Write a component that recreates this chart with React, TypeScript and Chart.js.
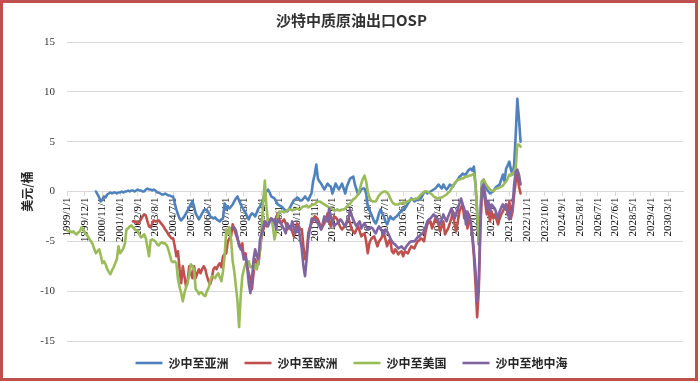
import React, { useEffect, useRef } from 'react';
import { Chart, registerables } from 'chart.js';

Chart.register(...registerables);

const CHART_TITLE = '沙特中质原油出口OSP';
const Y_AXIS_TITLE = '美元/桶';
const SERIES_NAMES = ['沙中至亚洲', '沙中至欧洲', '沙中至美国', '沙中至地中海'];
const SERIES_COLORS = ['#4f81bd', '#c0504d', '#9bbb59', '#8064a2'];

// monthly categories 1999/1/1 .. 2030/12/1, a label every 11 months
const FIRST_YEAR = 1999;
const MONTH_COUNT = 384;
const LABEL_EVERY = 11;
const categories: string[] = [];
for (let i = 0; i < MONTH_COUNT; i++) {
  categories.push(`${FIRST_YEAR + Math.floor(i / 12)}/${(i % 12) + 1}/1`);
}

const Y_MIN = -15;
const Y_MAX = 15;
const Y_STEP = 5;

// 沙中至亚洲 starts 2000/7
const asiaStart = 18;
const asiaValues = [
  0.0, -0.3, -0.6, -1.0, -0.8, -0.5,
  -0.6, -0.3, -0.2, -0.1, -0.2, -0.1, -0.1, -0.2, -0.1, -0.1, 0.0, -0.1,
  0.0, 0.0, 0.1, 0.0, 0.1, 0.1, 0.0, 0.1, 0.2, 0.1, 0.1, 0.0,
  0.0, 0.2, 0.3, 0.2, 0.2, 0.1, 0.2, 0.1, -0.1, -0.1, -0.2, -0.3,
  -0.3, -0.2, -0.3, -0.4, -0.4, -0.5, -0.5, -1.2, -1.8, -2.3, -2.7, -2.9,
  -2.7, -2.5, -2.2, -1.9, -1.6, -1.3, -1.0, -1.5, -2.2, -2.5, -2.8, -2.5,
  -2.2, -1.9, -1.8, -1.9, -2.1, -2.5, -2.6, -2.7, -2.6, -2.8, -2.9, -3.0,
  -2.8, -2.7, -1.2, -1.8, -1.5, -1.7, -1.5, -1.3, -1.0, -0.7, -0.5, -0.9,
  -1.3, -1.6, -1.9, -2.1, -2.5, -2.8, -2.4, -2.2, -2.3, -2.5, -2.1, -1.7,
  -1.5, -1.2, -0.7, -0.2, 0.0, 0.2, -0.1, -0.5, -0.6, -0.7, -1.0, -1.3,
  -1.4, -1.5, -1.6, -1.8, -1.9, -2.0, -1.8, -1.5, -1.2, -0.9, -0.8, -0.6,
  -0.7, -0.9, -0.9, -0.7, -0.5, -0.7, -0.9, -0.5, -0.2, 1.0, 1.7, 2.7,
  1.3, 1.0, 0.8, 0.5, 0.2, 0.5, 0.8, 0.6, 0.5, -0.2, 0.3, 0.8,
  0.5, 0.2, 0.5, 0.8, 0.3, -0.2, 0.5, 0.9, 1.3, 1.4, 1.5, 0.7,
  0.2, -0.3, -0.1, 0.2, 0.3, 0.3, -0.2, -1.5, -1.9, -2.2, -2.6, -3.0,
  -3.2, -2.8, -2.2, -1.8, -2.2, -2.5, -3.0, -3.3, -2.9, -2.5, -2.7, -2.8,
  -2.6, -2.5, -2.3, -2.1, -2.0, -1.8, -1.7, -1.5, -1.2, -1.0, -0.7, -0.8,
  -1.0, -0.9, -0.8, -0.7, -0.7, -0.4, -0.1, 0.0, -0.2, -0.1, 0.0, 0.1,
  0.2, 0.3, 0.5, 0.7, 0.5, 0.3, 0.7, 0.4, 0.2, 0.4, 0.7, 0.6,
  0.5, 0.8, 1.0, 1.2, 1.5, 1.6, 1.8, 1.7, 1.7, 2.0, 2.2, 2.3,
  2.1, 2.5, 0.7, -2.0, -5.3, -2.5, 1.0, 1.2, 0.7, 0.2, 0.0, -0.2,
  -0.1, 0.0, 0.3, 0.5, 0.6, 0.7, 1.2, 1.7, 1.0, 2.3, 2.6, 3.0,
  2.2, 1.7, 2.7, 5.7, 9.3, 7.3, 5.0,
];

// 沙中至欧洲 starts 2002/6
const europeStart = 41;
const europeValues = [
  -3.0, -3.0, -3.1, -3.2, -3.0, -2.8, -2.5,
  -2.3, -2.4, -3.0, -3.5, -3.6, -3.2, -2.9, -3.0, -3.0, -2.9, -3.1, -3.3,
  -3.5, -3.8, -4.0, -4.3, -4.5, -4.7, -4.7, -5.5, -6.5, -6.0, -7.8, -9.2,
  -7.5, -8.5, -9.5, -9.0, -7.5, -8.2, -8.7, -7.5, -8.7, -8.2, -7.8, -8.2,
  -7.8, -7.5, -7.8, -8.5, -9.0, -9.3, -8.8, -7.8, -7.6, -7.8, -7.4, -7.2,
  -7.6, -6.5, -6.3, -6.2, -5.0, -4.7, -4.5, -3.3, -3.8, -4.3, -4.8, -5.2,
  -5.8, -5.2, -6.8, -6.2, -7.5, -8.2, -8.8, -9.8, -8.2, -6.8, -7.2, -7.3,
  -5.8, -4.5, -3.8, -3.0, -3.5, -2.8, -2.9, -2.7, -3.0, -3.2, -2.6, -2.2,
  -2.8, -3.2, -3.0, -2.8, -3.2, -3.8, -3.5, -3.5, -4.0, -4.5, -3.8, -3.2,
  -3.4, -3.8, -3.8, -5.5, -6.8, -6.2, -4.2, -3.6, -3.2, -2.8, -2.5, -2.6,
  -2.8, -3.2, -3.8, -3.5, -3.2, -2.8, -2.2, -2.8, -3.5, -3.0, -2.5, -2.6,
  -2.8, -3.2, -3.6, -3.8, -3.6, -3.5, -3.0, -2.7, -3.2, -3.8, -4.0, -4.2,
  -3.8, -3.5, -4.0, -4.5, -4.3, -4.2, -5.0, -6.2, -5.2, -4.8, -4.6, -4.5,
  -5.0, -5.5, -5.0, -4.8, -4.5, -4.2, -4.8, -5.5, -5.0, -4.8, -6.0, -6.2,
  -5.8, -6.0, -6.3, -6.1, -6.0, -6.5, -6.0, -6.1, -6.2, -5.8, -5.5, -5.6,
  -5.7, -5.3, -5.0, -4.9, -4.7, -4.8, -5.0, -4.0, -3.3, -3.1, -3.0, -3.7,
  -3.2, -2.7, -3.0, -3.3, -4.0, -3.5, -3.0, -4.3, -4.0, -3.7, -3.2, -2.7,
  -2.0, -3.3, -4.0, -3.0, -2.0, -1.6, -1.3, -2.7, -2.0, -3.7, -2.3, -3.3,
  -4.5, -6.5, -9.3, -12.6, -10.0, -4.0, 0.3, 0.0, -1.0, -2.3, -1.7, -3.0,
  -2.0, -2.7, -2.3, -2.8, -3.3, -2.7, -2.3, -2.0, -1.6, -1.3, -2.3, -1.0,
  -2.7, -2.0, -0.3, 1.0, 1.8, 0.5, -0.2,
];

// 沙中至美国 starts 1999/1
const usStart = 0;
const usValues = [
  -3.9, -4.0, -4.0, -4.1, -4.0, -4.2, -4.3, -4.1, -4.0, -3.6, -3.8, -4.1,
  -4.3, -4.5, -4.8, -5.0, -5.3, -5.8, -6.2, -6.0, -5.8, -6.4, -7.2, -7.0,
  -7.3, -7.8, -8.1, -8.3, -7.9, -7.6, -7.2, -6.8, -5.5, -6.2, -6.0, -5.7,
  -5.2, -3.8, -3.7, -3.5, -3.4, -3.6, -3.8, -3.9, -4.0, -4.3, -4.6, -4.5,
  -4.3, -4.7, -5.6, -6.5, -4.9, -4.8, -4.9, -5.0, -5.3, -5.4, -5.2, -5.1,
  -5.2, -5.2, -5.4, -5.8, -6.4, -7.0, -7.1, -7.0, -7.2, -8.8, -9.6, -10.2,
  -11.0, -10.2, -9.6, -9.2, -8.3, -7.3, -7.5, -7.8, -9.8, -10.0, -10.3, -10.1,
  -10.2, -10.4, -10.5, -10.0, -9.7, -9.0, -8.5, -8.6, -8.7, -8.4, -8.2, -8.6,
  -9.0, -8.0, -6.5, -3.8, -4.3, -3.6, -4.8, -7.0, -8.0, -9.5, -11.0, -13.6,
  -10.5, -8.5, -7.8, -7.2, -7.4, -7.0, -7.6, -7.5, -7.8, -7.3, -7.8, -7.0,
  -6.0, -3.8, -1.0, 1.1, -1.5, -3.2, -3.0, -2.8, -3.5, -4.8, -4.0, -2.5,
  -2.0, -2.0, -2.0, -2.1, -2.0, -1.9, -1.8, -1.8, -1.9, -1.8, -1.8, -1.7,
  -1.8, -1.8, -1.6, -1.5, -1.5, -1.4, -1.6, -1.5, -1.4, -1.3, -1.3, -1.1,
  -1.0, -1.0, -1.1, -1.2, -1.3, -1.4, -1.5, -1.6, -1.7, -1.8, -1.9, -1.9,
  -1.8, -1.9, -1.9, -1.8, -1.8, -1.7, -1.5, -1.3, -1.2, -1.0, -0.8, -0.7,
  -0.5, -0.3, 0.2, 0.8, 1.3, 1.6, 1.0, 0.0, -0.6, -0.9, -1.0, -1.0,
  -1.0, -0.7, -0.4, -0.2, -0.1, 0.0, 0.0, -0.1, -0.3, -0.7, -1.0, -1.2,
  -1.3, -1.3, -1.3, -1.2, -1.2, -1.1, -1.2, -1.0, -1.0, -0.9, -0.8, -0.8,
  -0.8, -0.7, -0.7, -0.5, -0.3, -0.2, 0.0, 0.0, 0.0, -0.1, -0.2, -0.3,
  -0.5, -0.6, -0.7, -0.7, -0.6, -0.6, -0.5, -0.4, -0.3, -0.1, 0.0, 0.3,
  0.6, 0.8, 1.0, 1.2, 1.2, 1.3, 1.3, 1.4, 1.5, 1.5, 1.6, 1.6,
  1.7, 1.8, 0.7, -2.0, -5.0, -2.0, 1.0, 1.2, 0.9, 0.6, 0.4, 0.2,
  0.1, 0.0, 0.2, 0.3, 0.3, 0.4, 0.5, 0.6, 0.8, 1.0, 1.3, 1.7,
  1.6, 1.8, 2.0, 2.4, 4.7, 4.7, 4.5,
];

// 沙中至地中海 starts 2007/8
const medStart = 103;
const medValues = [
  -3.7, -3.6, -3.9, -4.6, -5.5,
  -5.6, -6.0, -6.8, -6.5, -7.5, -9.2, -10.2, -8.8, -6.8, -5.8, -6.5, -6.8,
  -4.8, -4.2, -3.5, -3.0, -3.2, -3.5, -3.0, -2.7, -2.9, -2.8, -3.8, -2.8,
  -3.0, -3.2, -3.5, -3.8, -4.2, -3.2, -3.5, -3.8, -3.0, -3.6, -4.2, -3.8,
  -3.5, -4.8, -5.8, -7.5, -8.5, -6.8, -4.8, -3.8, -2.8, -2.8, -2.8, -3.0,
  -3.2, -3.5, -3.8, -3.2, -2.5, -2.8, -3.0, -1.7, -2.5, -3.0, -3.5, -3.3,
  -3.2, -3.0, -2.8, -3.0, -3.3, -3.5, -3.0, -2.8, -1.8, -2.4, -2.8, -3.2,
  -3.5, -3.2, -3.0, -3.7, -3.4, -3.2, -3.5, -3.8, -3.7, -3.6, -3.7, -4.0,
  -4.2, -3.8, -3.5, -3.8, -4.0, -4.3, -3.8, -4.0, -4.3, -4.7, -5.0, -5.2,
  -5.3, -5.5, -5.7, -5.6, -5.5, -5.7, -5.8, -5.5, -5.3, -5.1, -5.0, -5.0,
  -5.0, -4.8, -4.6, -4.5, -4.3, -4.2, -4.0, -3.5, -3.0, -2.8, -2.7, -2.5,
  -2.3, -2.5, -2.7, -3.0, -3.3, -2.8, -2.3, -2.7, -3.0, -2.5, -2.1, -1.7,
  -2.2, -2.7, -2.2, -1.7, -1.2, -0.7, -1.3, -1.7, -3.3, -2.0, -2.7, -3.0,
  -4.3, -6.0, -8.0, -11.0, -9.0, -3.0, 0.3, 0.7, -0.3, -1.7, -1.0, -2.0,
  -1.3, -1.5, -1.7, -2.2, -2.7, -2.0, -1.6, -1.3, -1.7, -1.3, -2.0, -2.8,
  -2.2, -1.7, 0.7, 2.0, 2.2, 1.7, 0.7,
];

function withLead(start: number, values: number[]): (number | null)[] {
  const lead: (number | null)[] = [];
  for (let i = 0; i < start; i++) lead.push(null);
  return lead.concat(values);
}

const seriesData = [
  withLead(asiaStart, asiaValues),
  withLead(europeStart, europeValues),
  withLead(usStart, usValues),
  withLead(medStart, medValues),
];

const CJK = '"Noto Sans CJK SC", sans-serif';
const NUM = '"Liberation Serif", "Noto Sans CJK SC", serif';

const outerBorder = {
  id: 'outerBorder',
  afterDraw(chart: any) {
    const { ctx } = chart;
    ctx.save();
    ctx.strokeStyle = '#c0504d';
    ctx.lineWidth = 3;
    ctx.strokeRect(1.5, 1.5, chart.width - 5, chart.height - 5);
    ctx.restore();
  },
};

export default function App() {
  const ref = useRef<HTMLCanvasElement>(null);
  useEffect(() => {
    document.body.style.margin = '0';
    const datasets = SERIES_NAMES.map((name, k) => ({
      label: name,
      data: seriesData[k],
      borderColor: SERIES_COLORS[k],
      backgroundColor: SERIES_COLORS[k],
      borderWidth: 2.6,
      pointRadius: 0,
      pointHoverRadius: 0,
      tension: 0,
      borderJoinStyle: 'round' as const,
      borderCapStyle: 'round' as const,
      spanGaps: false,
      order: 4 - k,
    }));
    const chart = new Chart(ref.current!, {
      type: 'line',
      data: { labels: categories, datasets },
      plugins: [outerBorder],
      options: {
        responsive: false,
        animation: false,
        devicePixelRatio: 1,
        layout: { padding: { left: 20, right: 17, top: 0, bottom: 4 } },
        plugins: {
          title: {
            display: true,
            text: CHART_TITLE,
            color: '#333333',
            font: { family: CJK, size: 15, weight: 'bold' },
            padding: { top: 11, bottom: 13 },
          },
          legend: {
            display: true,
            position: 'bottom',
            labels: {
              usePointStyle: true,
              pointStyle: 'line',
              pointStyleWidth: 27,
              padding: 16,
              color: '#262626',
              font: { family: CJK, size: 12, weight: 'bold' },
              sort: (a: any, b: any) => a.datasetIndex - b.datasetIndex,
            },
          },
          tooltip: { enabled: false },
        },
        scales: {
          x: {
            type: 'category',
            position: { y: 0 } as any,
            z: 1,
            offset: false,
            afterBuildTicks: (scale: any) => {
              scale.ticks = scale.ticks.filter((t: any) => t.value % LABEL_EVERY === 0);
            },
            grid: {
              drawOnChartArea: false,
              drawTicks: true,
              tickLength: 4,
              color: '#d9d9d9',
            },
            border: { display: true, color: '#d9d9d9', width: 1 },
            ticks: {
              autoSkip: false,
              minRotation: 90,
              maxRotation: 90,
              padding: 2,
              color: '#000000',
              font: { family: NUM, size: 11 },
            },
          },
          y: {
            type: 'linear',
            min: Y_MIN,
            max: Y_MAX,
            afterFit: (scale: any) => {
              scale.width = 47;
            },
            title: {
              display: true,
              text: Y_AXIS_TITLE,
              color: '#262626',
              font: { family: CJK, size: 12, weight: 'bold' },
              padding: { top: 0, bottom: 0 },
            },
            grid: { color: '#d9d9d9', drawTicks: false, lineWidth: 1 },
            border: { display: false },
            ticks: {
              stepSize: Y_STEP,
              padding: 12,
              color: '#333333',
              font: { family: NUM, size: 11 },
            },
          },
        },
      },
    });
    return () => chart.destroy();
  }, []);
  return (
    <div style={{ width: 700, height: 383 }}>
      <canvas ref={ref} width={700} height={383} />
    </div>
  );
}
